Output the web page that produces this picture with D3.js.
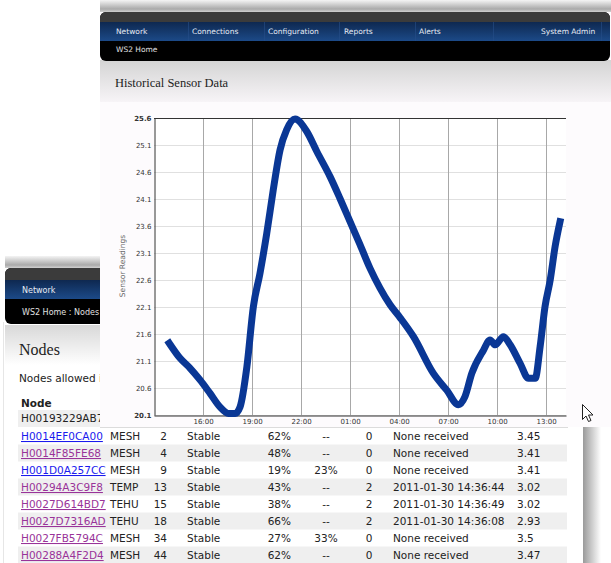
<!DOCTYPE html>
<html><head><meta charset="utf-8">
<script src="https://cdn.jsdelivr.net/npm/d3@7"></script>
<style>
html,body{margin:0;padding:0;background:#fff;overflow:hidden}
svg{display:block}
</style></head>
<body>
<svg id="c" width="611" height="563"></svg>
<script>
// ---------- chart data ----------
const times = ["2011-01-29 13:56","2011-01-29 14:36","2011-01-29 15:12","2011-01-29 15:49","2011-01-29 16:26","2011-01-29 17:02","2011-01-29 17:33","2011-01-29 17:58","2011-01-29 18:16","2011-01-29 18:41","2011-01-29 19:05","2011-01-29 19:29","2011-01-29 19:54","2011-01-29 20:18","2011-01-29 20:43","2011-01-29 21:07","2011-01-29 21:38","2011-01-29 22:21","2011-01-29 22:58","2011-01-29 23:47","2011-01-30 00:23","2011-01-30 01:00","2011-01-30 01:37","2011-01-30 02:13","2011-01-30 02:50","2011-01-30 03:27","2011-01-30 04:04","2011-01-30 04:53","2011-01-30 06:06","2011-01-30 06:55","2011-01-30 07:38","2011-01-30 08:02","2011-01-30 08:27","2011-01-30 09:10","2011-01-30 09:34","2011-01-30 09:53","2011-01-30 10:23","2011-01-30 10:48","2011-01-30 11:24","2011-01-30 11:55","2011-01-30 12:20","2011-01-30 12:38","2011-01-30 12:56","2011-01-30 13:15","2011-01-30 13:33","2011-01-30 13:51"];
const readings = [21.43,21.15,20.97,20.75,20.50,20.25,20.13,20.13,20.25,20.99,22.11,22.72,23.46,24.27,25.01,25.38,25.58,25.35,24.98,24.51,24.11,23.68,23.25,22.82,22.45,22.14,21.90,21.55,20.87,20.56,20.29,20.44,20.87,21.30,21.49,21.40,21.55,21.40,21.06,20.78,20.78,21.37,22.11,22.60,23.22,23.68];
const yTicks = [20.1,20.6,21.1,21.6,22.1,22.6,23.1,23.6,24.1,24.6,25.1,25.6];
const xTickTimes = ["2011-01-29 16:00","2011-01-29 19:00","2011-01-29 22:00","2011-01-30 01:00","2011-01-30 04:00","2011-01-30 07:00","2011-01-30 10:00","2011-01-30 13:00"];
const xDomain = ["2011-01-29 13:00","2011-01-30 14:13"];
const yLabel = "Sensor Readings";
const chartTitle = "Historical Sensor Data";
const menuItems = ["Network","Connections","Configuration","Reports","Alerts","System Admin"];

// ---------- table data ----------
const nodeIds = ["H0014EF0CA00","H0014F85FE68","H001D0A257CC","H00294A3C9F8","H0027D614BD7","H0027D7316AD","H0027FB5794C","H00288A4F2D4"];
const nodeVisited = [false,true,false,true,true,true,true,true];
const nodeTypes = ["MESH","MESH","MESH","TEMP","TEHU","TEHU","MESH","MESH"];
const hops = ["2","4","9","13","15","18","34","44"];
const statuses = ["Stable","Stable","Stable","Stable","Stable","Stable","Stable","Stable"];
const pctA = ["62%","48%","19%","43%","38%","66%","27%","62%"];
const pctB = ["--","--","23%","--","--","--","33%","--"];
const alertCounts = ["0","0","0","2","2","2","0","0"];
const lastReceived = ["None received","None received","None received","2011-01-30 14:36:44","2011-01-30 14:36:49","2011-01-30 14:36:08","None received","None received"];
const voltages = ["3.45","3.41","3.41","3.02","3.02","2.93","3.5","3.47"];

const parse = d3.timeParse("%Y-%m-%d %H:%M");
const svg = d3.select("#c");
const defs = svg.append("defs");
function vgrad(id, stops){
  const g = defs.append("linearGradient").attr("id",id).attr("x1",0).attr("y1",0).attr("x2",0).attr("y2",1);
  stops.forEach(s=>g.append("stop").attr("offset",s[0]).attr("stop-color",s[1]));
}
function hgrad(id, stops){
  const g = defs.append("linearGradient").attr("id",id).attr("x1",0).attr("y1",0).attr("x2",1).attr("y2",0);
  stops.forEach(s=>g.append("stop").attr("offset",s[0]).attr("stop-color",s[1]));
}
vgrad("shadowTop",[[0,"#f4f4f4"],[0.75,"#a9a9a9"],[1,"#d0d0d0"]]);
vgrad("blueBar",[[0,"#0e2850"],[1,"#1c4a88"]]);
vgrad("grayHead",[[0,"#d4d4d4"],[1,"#f7f4f7"]]);
vgrad("grayHead2",[[0,"#d8d8d8"],[1,"#ffffff"]]);
hgrad("shadowRight",[[0,"#9a9a9a"],[1,"#ffffff"]]);

const SANS = "'DejaVu Sans', Verdana, sans-serif";
const SERIF = "'Liberation Serif', 'Times New Roman', serif";

// ================= BACK WINDOW (Nodes) =================
const back = svg.append("g");
back.append("rect").attr("x",5).attr("y",256).attr("width",600).attr("height",12).attr("fill","url(#shadowTop)");
back.append("rect").attr("x",583).attr("y",268).attr("width",18).attr("height",295).attr("fill","url(#shadowRight)");
back.append("rect").attr("x",3).attr("y",268).attr("width",580).attr("height",295).attr("fill","#fff");
back.append("line").attr("x1",3.5).attr("x2",3.5).attr("y1",322).attr("y2",563).attr("stroke","#e6e6e6");
// nav box
back.append("rect").attr("x",5).attr("y",268).attr("width",590).attr("height",56).attr("rx",6).attr("fill","#000");
back.append("rect").attr("x",5).attr("y",268).attr("width",590).attr("height",12).attr("rx",6).attr("fill","#3b3b3b");
back.append("rect").attr("x",5).attr("y",275).attr("width",590).attr("height",5).attr("fill","#3b3b3b");
back.append("rect").attr("x",5).attr("y",280).attr("width",590).attr("height",19).attr("fill","url(#blueBar)");
back.append("text").attr("x",22).attr("y",293).text("Network").attr("font-family",SANS).attr("font-size",8).attr("fill","#e8ecf4");
back.append("text").attr("x",22).attr("y",315).text("WS2 Home : Nodes").attr("font-family",SANS).attr("font-size",8).attr("fill","#e0e0e0");
back.append("rect").attr("x",5).attr("y",325).attr("width",578).attr("height",40).attr("fill","url(#grayHead2)");
back.append("text").attr("x",19).attr("y",355).text("Nodes").attr("font-family",SERIF).attr("font-size",16).attr("fill","#222");
back.append("text").attr("x",19).attr("y",382).text("Nodes allowed in this network").attr("font-family",SANS).attr("font-size",10.5).attr("fill","#222");
back.append("text").attr("x",21).attr("y",407).text("Node").attr("font-family",SANS).attr("font-size",10.5).attr("font-weight","bold").attr("fill","#222");
back.append("rect").attr("x",18).attr("y",410).attr("width",549).attr("height",17).attr("fill","#efefef");
back.append("text").attr("x",21).attr("y",422).text("H00193229AB7").attr("font-family",SANS).attr("font-size",10.5).attr("fill","#222");

const rowH = 17, row0 = 427.5;
nodeIds.forEach((id,i)=>{
  const top = row0 + i*rowH, base = top + 12.5;
  const g = back.append("g").attr("font-family",SANS).attr("font-size",10.5).attr("fill","#222");
  if(i%2===1) g.append("rect").attr("x",18).attr("y",top).attr("width",549).attr("height",rowH).attr("fill","#efefef");
  g.append("text").attr("x",21).attr("y",base).text(id).attr("fill",nodeVisited[i]?"#993399":"#1a1aee").attr("text-decoration","underline");
  g.append("text").attr("x",110).attr("y",base).text(nodeTypes[i]);
  g.append("text").attr("x",167).attr("y",base).attr("text-anchor","end").text(hops[i]);
  g.append("text").attr("x",187).attr("y",base).text(statuses[i]);
  g.append("text").attr("x",291).attr("y",base).attr("text-anchor","end").text(pctA[i]);
  g.append("text").attr("x",326).attr("y",base).attr("text-anchor","middle").text(pctB[i]);
  g.append("text").attr("x",369).attr("y",base).attr("text-anchor","middle").text(alertCounts[i]);
  g.append("text").attr("x",393).attr("y",base).text(lastReceived[i]);
  g.append("text").attr("x",517).attr("y",base).text(voltages[i]);
});

// ================= FRONT WINDOW (chart) =================
const front = svg.append("g");
front.append("rect").attr("x",100).attr("y",0).attr("width",511).attr("height",12).attr("fill","url(#shadowTop)");
front.append("rect").attr("x",100).attr("y",12).attr("width",511).attr("height",415).attr("fill","#fdfbfd");
front.append("rect").attr("x",100).attr("y",60).attr("width",511).attr("height",42).attr("fill","url(#grayHead)");
front.append("line").attr("x1",100).attr("x2",568).attr("y1",427.5).attr("y2",427.5).attr("stroke","#dcdcdc");
// nav
front.append("rect").attr("x",100).attr("y",12).attr("width",510).attr("height",49).attr("rx",6).attr("fill","#000");
front.append("rect").attr("x",100).attr("y",12).attr("width",510).attr("height",12).attr("rx",6).attr("fill","#3b3b3b");
front.append("rect").attr("x",100).attr("y",18).attr("width",510).attr("height",4).attr("fill","#3b3b3b");
front.append("rect").attr("x",100).attr("y",22).attr("width",510).attr("height",19).attr("fill","url(#blueBar)");
const menuX = [116,192,268,344,419,541];
const sepX = [188,264,339,415,493,601];
sepX.forEach(x=>front.append("line").attr("x1",x+0.5).attr("x2",x+0.5).attr("y1",22).attr("y2",41).attr("stroke","#264f88").attr("stroke-opacity",0.6));
menuItems.forEach((m,i)=>front.append("text").attr("x",menuX[i]).attr("y",34).text(m)
  .attr("font-family",SANS).attr("font-size",7.5).attr("fill","#e6ebf4"));
front.append("text").attr("x",116).attr("y",52).text("WS2 Home").attr("font-family",SANS).attr("font-size",7.5).attr("fill","#e0e0e0");
front.append("text").attr("x",115).attr("y",87).text(chartTitle).attr("font-family",SERIF).attr("font-size",12.5).attr("fill","#222");

// ---- plot ----
const x = d3.scaleTime().domain(xDomain.map(parse)).range([154,566]);
const y = d3.scaleLinear().domain([20.1,25.6]).range([415,118]);
const plot = front.append("g");
plot.append("rect").attr("x",154).attr("y",118).attr("width",412).attr("height",297).attr("fill","#fff");
// horizontal gridlines
plot.append("g").selectAll("line").data(yTicks).join("line")
  .attr("x1",154).attr("x2",566).attr("y1",d=>Math.round(y(d))+0.5).attr("y2",d=>Math.round(y(d))+0.5)
  .attr("stroke","#e0e0e0");
// vertical gridlines
const xt = xTickTimes.map(parse);
plot.append("g").selectAll("line").data(xt).join("line")
  .attr("x1",d=>Math.round(x(d))+0.5).attr("x2",d=>Math.round(x(d))+0.5).attr("y1",118).attr("y2",415)
  .attr("stroke","#a8a8a8");
// axes frame
plot.append("line").attr("x1",154).attr("x2",566).attr("y1",118.5).attr("y2",118.5).attr("stroke","#333");
// y axis via d3
const yAxis = d3.axisLeft(y).tickValues(yTicks).tickSize(0).tickPadding(3).tickFormat(d3.format(".1f"));
const ya = plot.append("g").attr("transform","translate(154.5,0)").call(yAxis);
ya.select(".domain").attr("stroke","#333");
ya.selectAll("text").attr("font-family",SANS).attr("font-size",7).attr("fill","#333")
  .attr("font-weight",(d,i)=> (i===0||i===yTicks.length-1)?"bold":"normal");
const xAxis = d3.axisBottom(x).tickValues(xt).tickSize(0).tickPadding(4).tickFormat(d3.timeFormat("%H:%M"));
const xa = plot.append("g").attr("transform","translate(0,415.5)").call(xAxis);
xa.select(".domain").attr("stroke","#333");
xa.selectAll("text").attr("font-family",SANS).attr("font-size",7).attr("fill","#333");
plot.append("text").attr("transform","translate(125,266) rotate(-90)").attr("text-anchor","middle")
  .text(yLabel).attr("font-family",SANS).attr("font-size",7.5).attr("fill","#666");
// data line
const data = times.map((t,i)=>({t:parse(t), v:readings[i]}));
plot.append("path").datum(data)
  .attr("d", d3.line().x(d=>x(d.t)).y(d=>y(d.v)).curve(d3.curveMonotoneX))
  .attr("fill","none").attr("stroke","#0a3795").attr("stroke-width",7)
  .attr("stroke-linejoin","round").attr("stroke-linecap","square");

// ---- mouse cursor ----
svg.append("path").attr("transform","translate(582.5,404.5)")
  .attr("d","M0,0 L0,15 L3.5,11.5 L6,17 L8.5,16 L6,10.5 L10.5,10.5 Z")
  .attr("fill","#fff").attr("stroke","#222").attr("stroke-width",1).attr("stroke-linejoin","round");
</script>
</body></html>
